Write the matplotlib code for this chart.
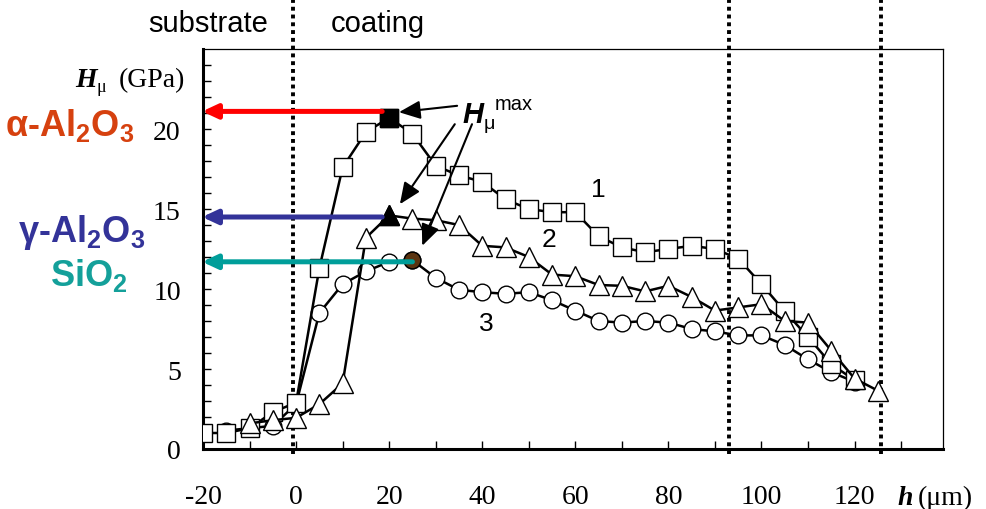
import numpy as np
import matplotlib.pyplot as plt
from matplotlib.ticker import MultipleLocator, FixedLocator, FuncFormatter

# depth h (um) and microhardness H (GPa), curves 1..3
h1 = [-20, -15, -10, -5, 0, 5, 10, 15, 20, 25, 30, 35, 40, 45, 50, 55, 60,
      65, 70, 75, 80, 85, 90, 95, 100, 105, 110, 115, 120]
hv1 = [1.0, 1.0, 1.3, 2.3, 2.9, 11.3, 17.6, 19.8, 20.7, 19.7, 17.7, 17.1, 16.7,
       15.6, 15.0, 14.8, 14.8, 13.3, 12.6, 12.3, 12.5, 12.7, 12.5, 11.9, 10.3,
       8.6, 7.0, 5.3, 4.3]

h2 = [-10, -5, 0, 5, 10, 15, 20, 25, 30, 35, 40, 45, 50, 55, 60, 65, 70, 75,
      80, 85, 90, 95, 100, 105, 110, 115, 120, 125]
hv2 = [1.6, 1.8, 1.95, 2.8, 4.1, 13.2, 14.6, 14.4, 14.3, 14.0, 12.7, 12.6, 12.0,
       10.9, 10.8, 10.25, 10.2, 9.85, 10.2, 9.5, 8.65, 8.85, 9.05, 8.0, 7.9,
       6.15, 4.4, 3.65]

h3 = [-15, -10, -5, 0, 5, 10, 15, 20, 25, 30, 35, 40, 45, 50, 55, 60, 65, 70,
      75, 80, 85, 90, 95, 100, 105, 110, 115, 120]
hv3 = [1.15, 1.3, 1.45, 2.8, 8.5, 10.3, 11.1, 11.7, 11.8, 10.7, 9.95, 9.8, 9.7,
       9.8, 9.3, 8.65, 8.0, 7.9, 8.0, 7.9, 7.5, 7.35, 7.1, 7.1, 6.5, 5.6, 4.8,
       4.2]

# maxima (filled markers)
hmax_x = [20, 20, 25]
hmax_y = [20.7, 14.6, 11.8]

# reference phases
phase_hv = [21.1, 14.5, 11.7]
phase_from = [18.5, 18.5, 25]
phase_col = ['#ff0000', '#333399', '#009e9a']

# boundaries (dotted)
bounds = [-0.7, 93.1, 125.6]

W, H = 986, 510
fig = plt.figure(figsize=(W / 100, H / 100), dpi=100)
ax = fig.add_axes([203 / W, (H - 450) / H, (943 - 203) / W, 400 / H])


def px(x, y):
    return x / W, 1 - y / H


serif = 'Liberation Serif'
sans = 'Liberation Sans'

ax.plot(h3, hv3, '-o', color='k', lw=1.8, ms=12, mfc='white', mec='k', mew=1.0, zorder=3)
ax.plot(h1, hv1, '-s', color='k', lw=1.8, ms=13, mfc='white', mec='k', mew=1.0, zorder=4)
ax.plot(h2, hv2, '-^', color='k', lw=1.8, ms=14, mfc='white', mec='k', mew=1.0, zorder=5)
ax.plot(hmax_x[0], hmax_y[0], 's', ms=13, mfc='k', mec='k', zorder=6)
ax.plot(hmax_x[1], hmax_y[1], '^', ms=14, mfc='k', mec='k', zorder=6)
ax.plot(hmax_x[2], hmax_y[2], 'o', ms=12, mfc='#5a3411', mec='k', mew=1.0, zorder=6)

for b in bounds:
    ax.axvline(b, ymin=-0.0125, ymax=1.125, color='k', lw=2.8,
               ls=(0, (1, 1)), clip_on=False, zorder=2)

# phase arrows
for y, x0, c in zip(phase_hv, phase_from, phase_col):
    ax.annotate('', xy=(-20.2, y), xytext=(x0, y), annotation_clip=False,
                arrowprops=dict(arrowstyle='-|>,head_length=0.45,head_width=0.21',
                                mutation_scale=20, lw=3.6, color=c,
                                shrinkA=0, shrinkB=0), zorder=7)

# H_max pointers
pointers = [((34.6, 21.45), (22.1, 21.05)),
            ((34.1, 20.3), (22.3, 15.3)),
            ((37.8, 20.3), (27.1, 12.7))]
for tail, tip in pointers:
    ax.annotate('', xy=tip, xytext=tail,
                arrowprops=dict(arrowstyle='-|>,head_length=0.65,head_width=0.28',
                                mutation_scale=20, lw=1.5, color='k',
                                shrinkA=0, shrinkB=0), zorder=8)

ax.set_xlim(-20, 139)
ax.set_ylim(0, 25)
ax.xaxis.set_major_locator(FixedLocator([-20, 0, 20, 40, 60, 80, 100, 120]))
ax.xaxis.set_minor_locator(FixedLocator([-10, 10, 30, 50, 70, 90, 110, 130]))
ax.yaxis.set_major_locator(FixedLocator([0, 5, 10, 15, 20]))
ax.yaxis.set_minor_locator(FixedLocator([v for v in range(1, 25) if v % 5]))
ax.xaxis.set_major_formatter(FuncFormatter(lambda v, p: '%d' % v))
ax.yaxis.set_major_formatter(FuncFormatter(lambda v, p: '%d' % v))
ax.tick_params(which='both', direction='in', length=6, width=1.0,
               top=False, right=False)
ax.tick_params(axis='x', which='major', pad=25)
ax.tick_params(axis='y', which='major', pad=16)
for lab in ax.get_xticklabels() + ax.get_yticklabels():
    lab.set_fontfamily(serif)
    lab.set_fontsize(20)
for s in ['left', 'bottom']:
    ax.spines[s].set_linewidth(2.2)
for s in ['top', 'right']:
    ax.spines[s].set_linewidth(0.9)

# curve numbers
ax.text(65, 16.25, '1', fontsize=19, family=sans, ha='center', va='center')
ax.text(54.3, 13.1, '2', fontsize=19, family=sans, ha='center', va='center')
ax.text(40.8, 7.9, '3', fontsize=19, family=sans, ha='center', va='center')

# region labels
fig.text(*px(208, 32), 'substrate', fontsize=21, family=sans, ha='center', va='baseline')
fig.text(*px(378, 32), 'coating', fontsize=21, family=sans, ha='center', va='baseline')

# y axis title
fig.text(*px(75, 87), 'H', fontsize=20, family=serif, weight='bold', style='italic', va='baseline')
fig.text(*px(97, 92), 'μ', fontsize=13, family=serif, va='baseline')
fig.text(*px(119, 87), '(GPa)', fontsize=20, family=serif, va='baseline')

# x axis title
fig.text(*px(897, 505), 'h', fontsize=20, family=serif, weight='bold', style='italic', va='baseline')
fig.text(*px(918, 505), '(μm)', fontsize=20, family=serif, va='baseline')

# H_max label
fig.text(*px(462, 123), 'H', fontsize=21, family=sans, weight='bold', style='italic', va='baseline')
fig.text(*px(484, 129), 'μ', fontsize=14, family=sans, va='baseline')
fig.text(*px(495, 110), 'max', fontsize=14.5, family=sans, va='baseline')

# phase labels
phase_lab = [r'α-Al$_\mathregular{2}$O$_\mathregular{3}$',
             r'γ-Al$_\mathregular{2}$O$_\mathregular{3}$',
             r'SiO$_\mathregular{2}$']
phase_txtcol = ['#d6410f', '#333399', '#14a09a']
phase_pos = [(5, 136), (18, 242), (50, 286)]
for lab, c, (x, y) in zip(phase_lab, phase_txtcol, phase_pos):
    fig.text(*px(x, y), lab, fontsize=26, family=sans, weight='bold',
             color=c, va='baseline', ha='left')

fig.savefig('out.png', dpi=100)
